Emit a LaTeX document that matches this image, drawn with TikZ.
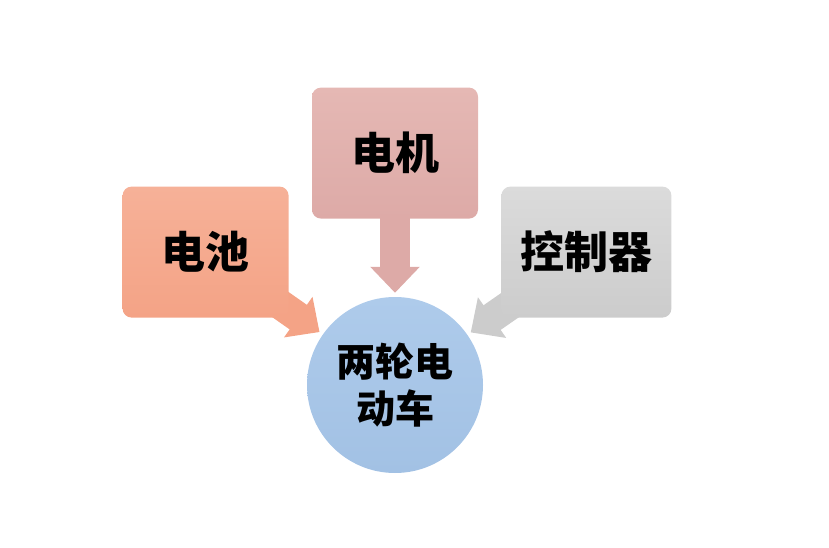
\documentclass[tikz,border=0pt]{standalone}
\usepackage{fontspec}
\newfontfamily\cjk{Noto Sans CJK SC}
\usetikzlibrary{positioning,arrows.meta}
\pgfdeclarelayer{bg}
\pgfsetlayers{bg,main}
\definecolor{battop}{HTML}{F6B198}
\definecolor{batbot}{HTML}{F4A386}
\definecolor{motortop}{HTML}{E5B8B4}
\definecolor{motorbot}{HTML}{DDAAA7}
\definecolor{ctrltop}{HTML}{DBDBDB}
\definecolor{ctrlbot}{HTML}{CCCCCC}
\definecolor{cartop}{HTML}{AECBEB}
\definecolor{carbot}{HTML}{A2C1E4}

\begin{document}
\begin{tikzpicture}[x=1pt,y=-1pt,
  part/.style={rounded corners=9pt,minimum width=166pt,minimum height=131pt,
    font=\cjk\bfseries\fontsize{44}{48}\selectfont},
  hub/.style={circle,minimum size=176pt,inner sep=0pt,align=center,
    top color=cartop,bottom color=carbot,
    font=\cjk\bfseries\fontsize{39}{47}\selectfont},
  feed/.style={line width=30pt,-{Triangle[width=48pt,length=26pt]},shorten >=4pt}]
  \useasboundingbox (0,0) rectangle (829,548);
  \node[hub] (car) at (395,385) {两轮电\\动车};
  \node[part,top color=motortop,bottom color=motorbot] (motor) [above=78pt of car] {电机};
  \node[part,top color=battop,bottom color=batbot] (bat) [left=23pt of motor,yshift=-99pt] {电池};
  \node[part,minimum width=170pt,top color=ctrltop,bottom color=ctrlbot] (ctrl) [right=23pt of motor,yshift=-99pt] {控制器};
  % arrows behind the boxes
  \begin{pgfonlayer}{bg}
    \draw[feed,batbot] (bat.center) -- (car);
    \draw[feed,motorbot] (motor.center) -- (car);
    \draw[feed,ctrlbot] (ctrl.center) -- (car);
  \end{pgfonlayer}
\end{tikzpicture}
\end{document}
